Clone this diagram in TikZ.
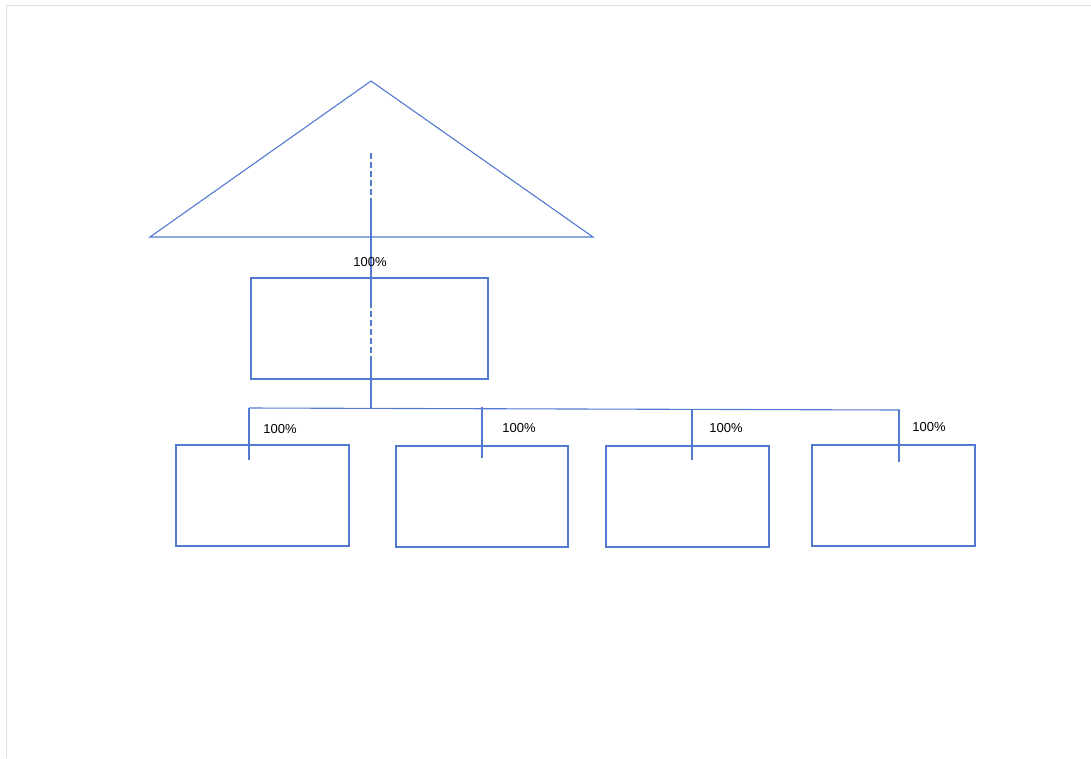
\documentclass[tikz,border=0pt]{standalone}
\usepackage{fontspec}
\setmainfont{Liberation Sans}
\usetikzlibrary{positioning}
\definecolor{lineblue}{RGB}{82,122,210}

\begin{document}
\begin{tikzpicture}[x=1pt, y=-1pt, line width=1.1pt,
    unit/.style = {draw=lineblue, minimum width=#1, minimum height=101pt, inner sep=0pt},
    link/.style = {draw=lineblue},
    share/.style = {font=\fontsize{13}{15}\selectfont, inner sep=0pt}]

    % page
    \useasboundingbox (0,0) rectangle (1091,758);
    \draw[black!12, line width=1pt] (6,758) -- (6,5) -- (1091,5);

    % roof
    \draw[link] (371,81) coordinate (apex) -- (593,237) coordinate (baseR) -- (150,237) coordinate (baseL) -- cycle;

    % boxes
    \node[unit=237pt] (top) at (369.5,328.5) {};
    \node[unit=173pt] (b1) at (262.5,495.5) {};
    \node[unit=172pt] (b2) at (482,496.5) {};
    \node[unit=163pt] (b3) at (687.5,496.5) {};
    \node[unit=163pt] (b4) at (893.5,495.5) {};

    % stem
    \coordinate (stem) at (371,153);
    \coordinate (s1) at (371,203);
    \coordinate (s2) at (371,302);
    \coordinate (s3) at (371,357);
    \coordinate (hub) at (371,408);
    \draw[link, dash pattern=on 6pt off 3pt] (stem) -- (s1);
    \draw[link] (s1) -- (s2);
    \draw[link, dash pattern=on 6pt off 3pt] (s2) -- (s3);
    \draw[link] (s3) -- (hub);
    \node[share] (p0) at (370,262) {100\%};

    % bus and drops
    \coordinate (busL) at (249,408);
    \coordinate (busR) at (900,410);
    \draw[link] (busL) -- (busR);
    \foreach \x/\t/\b/\lx/\ly [count=\i] in {249/408/460/280/429, 482/407/458/519/428, 692/409/460/726/428, 899/410/462/929/427} {
        \coordinate (d\i) at (\x,\t);
        \coordinate (e\i) at (\x,\b);
        \draw[link] (d\i) -- (e\i);
        \node[share] (p\i) at (\lx,\ly) {100\%};
    }

\end{tikzpicture}
\end{document}
